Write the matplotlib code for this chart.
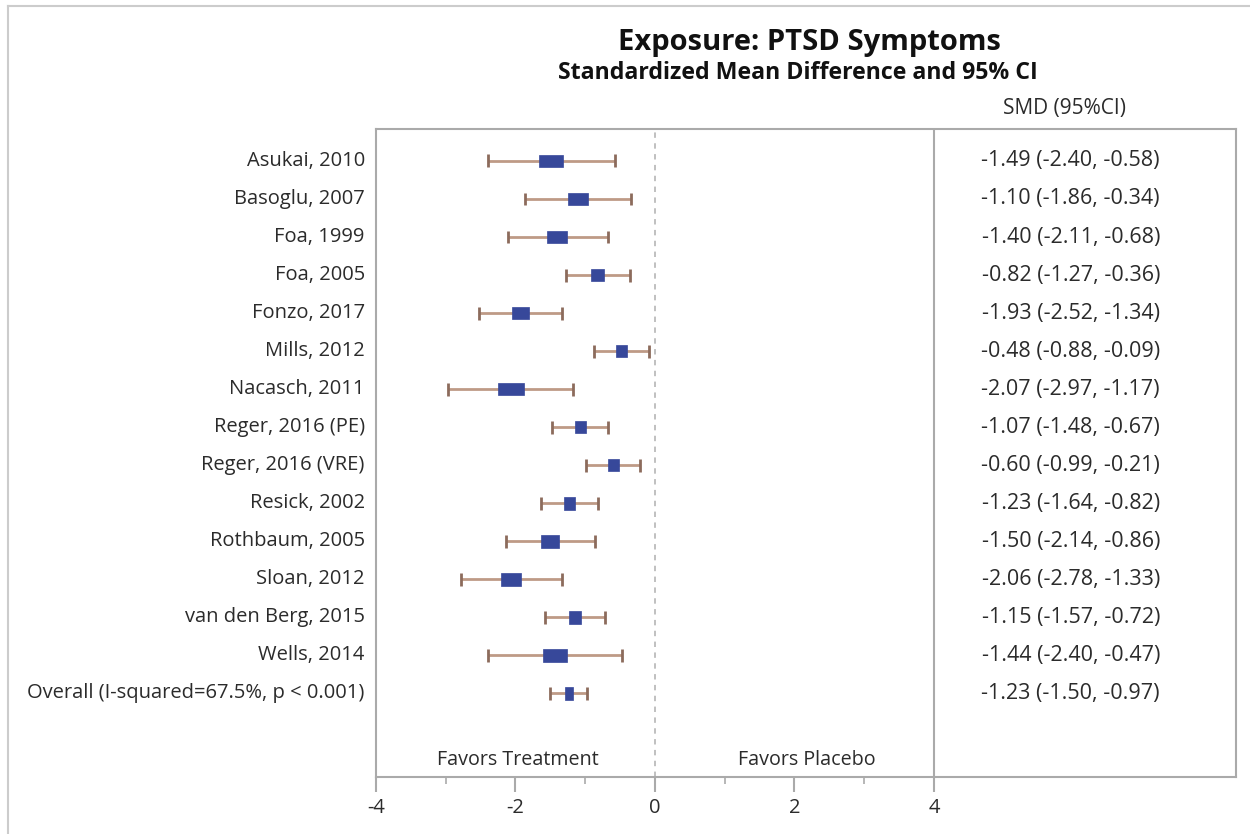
import matplotlib.pyplot as plt
from matplotlib.patches import Rectangle
from matplotlib.lines import Line2D

plt.rcParams["font.family"] = ["Open Sans", "DejaVu Sans"]
plt.rcParams["axes.unicode_minus"] = False

studies = [
    "Asukai, 2010", "Basoglu, 2007", "Foa, 1999", "Foa, 2005", "Fonzo, 2017",
    "Mills, 2012", "Nacasch, 2011", "Reger, 2016 (PE)", "Reger, 2016 (VRE)",
    "Resick, 2002", "Rothbaum, 2005", "Sloan, 2012", "van den Berg, 2015",
    "Wells, 2014",
]
smd = [-1.49, -1.10, -1.40, -0.82, -1.93, -0.48, -2.07, -1.07, -0.60,
       -1.23, -1.50, -2.06, -1.15, -1.44]
lower = [-2.40, -1.86, -2.11, -1.27, -2.52, -0.88, -2.97, -1.48, -0.99,
         -1.64, -2.14, -2.78, -1.57, -2.40]
upper = [-0.58, -0.34, -0.68, -0.36, -1.34, -0.09, -1.17, -0.67, -0.21,
         -0.82, -0.86, -1.33, -0.72, -0.47]
# relative study weight, shown as marker width
weights = [24, 20, 20, 13, 17, 11, 26, 11, 11, 11, 18, 20, 12, 24]

overall_label = "Overall (I-squared=67.5%, p < 0.001)"
overall_smd, overall_lo, overall_hi = -1.23, -1.50, -0.97

box_color = "#37489A"
line_color = "#BE9A86"
cap_color = "#8C6B5C"
grid_gray = "#AAAAAA"
text_color = "#2B2B2B"

fig = plt.figure(figsize=(12.5, 8.34), dpi=100)
ax = fig.add_axes([0.3008, 0.0683, 0.6880, 0.7770])

px_per_unit = 69.75
box_h = 0.33
cap_h = 0.34

labels = studies + [overall_label]
est = smd + [overall_smd]
lo = lower + [overall_lo]
hi = upper + [overall_hi]
widths = [w / px_per_unit for w in weights] + [8 / px_per_unit]

ax.axvline(0, color="#BBBBBB", lw=1.3, ls=(0, (3, 3)), zorder=1)
ax.axvline(4, color=grid_gray, lw=1.5, zorder=1)

for i, (lab, e, l, h, w) in enumerate(zip(labels, est, lo, hi, widths)):
    ax.hlines(i, l, h, color=line_color, lw=2, zorder=2)
    ax.vlines([l, h], i - cap_h / 2, i + cap_h / 2, color=cap_color, lw=2, zorder=2)
    ax.add_patch(Rectangle((e - w / 2, i - box_h / 2), w, box_h,
                           facecolor=box_color, edgecolor=box_color, lw=0.5, zorder=3))
    ax.text(-4.16, i, lab, ha="right", va="center", fontsize=14.5,
            color=text_color, clip_on=False)
    ax.text(5.96, i, f"{e:.2f} ({l:.2f}, {h:.2f})", ha="center", va="center",
            fontsize=15.5, color=text_color)

ax.text(5.87, -1.38, "SMD (95%CI)", ha="center", va="center", fontsize=15,
        color=text_color, clip_on=False)
ax.text(-1.97, 15.75, "Favors Treatment", ha="center", va="center", fontsize=14.2,
        color=text_color)
ax.text(2.17, 15.75, "Favors Placebo", ha="center", va="center", fontsize=14.2,
        color=text_color)

ax.set_xlim(-4, 8.33)
ax.set_ylim(16.2, -0.84)
ax.set_xticks([-4, -2, 0, 2, 4])
ax.set_xticks([-3, -1, 1, 3], minor=True)
ax.set_yticks([])
ax.tick_params(axis="x", which="major", length=11, width=1.5, color=grid_gray,
               labelsize=14.5, labelcolor=text_color, pad=4)
ax.tick_params(axis="x", which="minor", length=5, width=1.2, color=grid_gray)
for s in ax.spines.values():
    s.set_color(grid_gray)
    s.set_linewidth(1.5)

fig.text(0.6472, 0.949, "Exposure: PTSD Symptoms", ha="center", va="center",
         fontsize=21, fontweight="bold", color="#111111")
fig.text(0.6384, 0.912, "Standardized Mean Difference and 95% CI", ha="center",
         va="center", fontsize=16.7, fontweight="bold", color="#111111")

# outer frame
fig.add_artist(Line2D([0.0064, 1.0], [0.9928, 0.9928], transform=fig.transFigure,
                      color="#CCCCCC", lw=1.5))
fig.add_artist(Line2D([0.0064, 0.0064], [0.0, 0.9928], transform=fig.transFigure,
                      color="#CCCCCC", lw=1.5))

fig.savefig("out.png", dpi=100)
